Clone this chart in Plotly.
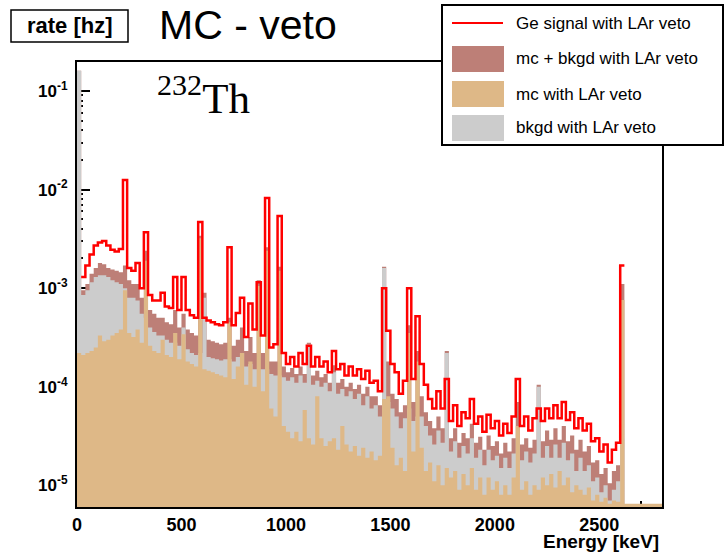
import numpy as np
import plotly.graph_objects as go

# ---------------- data (20 keV bins, 0 - 2800 keV) ----------------
BIN_WIDTH = 20
E_MAX = 2800
N = None

ge_signal = [
    N, 1.3e-3, 1.7e-3, 2.2e-3, 2.7e-3, 2.9e-3, 3.0e-3, 2.7e-3, 2.45e-3, 2.35e-3,
    2.5e-3, 1.25e-2, 1.6e-3, 1.5e-3, 1.8e-3, 1.0e-3, 3.7e-3, 8.5e-4, 7.5e-4, 7.5e-4,
    9e-4, 6.5e-4, 6.3e-4, 1.3e-3, 6e-4, 1.3e-3, 6e-4, 5.3e-4, 5e-4, 4.7e-3,
    5e-4, 4.7e-4, 4.5e-4, 4.3e-4, 4.2e-4, 4.5e-4, 2.6e-3, 4.2e-4, 5.6e-4, 8e-4,
    3.2e-4, 7e-4, 3.8e-4, 1.15e-3, 3.3e-4, 8.2e-3, 2.5e-4, 2.7e-4, 5.4e-3, 2.2e-4,
    1.7e-4, 2.0e-4, 1.6e-4, 2.2e-4, 1.7e-4, 2.6e-4, 1.6e-4, 2.0e-4, 1.6e-4, 1.8e-4,
    1.4e-4, 2.3e-4, 1.5e-4, 1.7e-4, 1.3e-4, 1.6e-4, 1.3e-4, 1.5e-4, 1.2e-4, 1.45e-4,
    1.1e-4, 1.15e-4, 9e-5, 1.0e-3, 3.7e-4, 1.7e-4, 1.4e-4, 8.5e-5, 1.15e-4, 1.0e-3,
    1.2e-4, 5.2e-4, 1.7e-4, 1.05e-4, 7.5e-5, 6e-5, 9e-5, 6e-5, 1.2e-4, 4.5e-5,
    6.5e-5, 4e-5, 5.5e-5, 4.8e-5, 7.5e-5, 4.2e-5, 5e-5, 3.5e-5, 5.2e-5, 3.8e-5,
    4.5e-5, 3.2e-5, 4.2e-5, 3.4e-5, 5e-5, 1.2e-4, 4e-5, 5e-5, 3.6e-5, 4.8e-5,
    6e-5, 4.5e-5, 6e-5, 4.8e-5, 6.5e-5, 4.8e-5, 7e-5, 4.6e-5, 5.5e-5, 3.8e-5,
    4.8e-5, 3.6e-5, 4.2e-5, 2.8e-5, 3e-5, 2.2e-5, 2.6e-5, 1.7e-5, 2.3e-5, 2.7e-5,
    1.7e-3, N, N, N, N, N, N, N, N, N,
]

mc_plus_bkgd = [
    0.16, 9.5e-4, 1.1e-3, 1.4e-3, 1.6e-3, 1.8e-3, 1.75e-3, 1.6e-3, 1.55e-3, 1.5e-3,
    1.45e-3, 1.7e-3, 1.2e-3, 1.1e-3, 1.1e-3, 8e-4, 2.4e-3, 6e-4, 5.5e-4, 5e-4,
    5e-4, 4.5e-4, 4.3e-4, 6e-4, 4e-4, 5.5e-4, 3.8e-4, 3.5e-4, 3.3e-4, 3.4e-3,
    9e-4, 3.0e-4, 2.9e-4, 2.8e-4, 2.7e-4, 2.8e-4, 5e-4, 2.6e-4, 3e-4, 4e-4,
    2.3e-4, 3.2e-4, 2.2e-4, 1.2e-3, 2.2e-4, 2.6e-3, 1.8e-4, 1.8e-4, 1.65e-3, 1.6e-4,
    1.4e-4, 1.55e-4, 1.35e-4, 1.6e-4, 1.35e-4, 2.8e-4, 1.3e-4, 1.45e-4, 1.25e-4, 1.35e-4,
    1.1e-4, 1.65e-4, 1.1e-4, 1.2e-4, 1.0e-4, 1.1e-4, 9.5e-5, 1.05e-4, 8.5e-5, 1.0e-4,
    8e-5, 8e-5, 6.5e-5, 1.65e-3, 1.8e-4, 8.5e-5, 7.5e-5, 5.5e-5, 6.5e-5, 4.2e-4,
    7e-5, 2.3e-4, 8e-5, 5.5e-5, 4.5e-5, 3.8e-5, 5e-5, 3.8e-5, 2.3e-4, 3e-5,
    3.8e-5, 2.7e-5, 3.4e-5, 3e-5, 4.2e-5, 2.7e-5, 3.1e-5, 2.3e-5, 3.2e-5, 2.5e-5,
    2.8e-5, 2.1e-5, 2.7e-5, 2.2e-5, 3e-5, 7e-5, 2.6e-5, 3e-5, 2.4e-5, 2.9e-5,
    1.05e-4, 2.8e-5, 3.6e-5, 2.9e-5, 3.8e-5, 2.9e-5, 4e-5, 2.8e-5, 3.2e-5, 2.3e-5,
    2.9e-5, 2.2e-5, 2.5e-5, 1.7e-5, 1.8e-5, 1.3e-5, 1.5e-5, 1.05e-5, 1.4e-5, 1.6e-5,
    1.1e-3, N, N, N, N, N, N, N, N, N,
]

bkgd = [
    0.16, 8.5e-4, 9.5e-4, 1.15e-3, 1.3e-3, 1.35e-3, 1.35e-3, 1.3e-3, 1.2e-3, 1.15e-3,
    1.1e-3, 1.0e-3, 8e-4, 8e-4, 7.5e-4, 5.5e-4, 5e-4, 4e-4, 3.6e-4, 3.3e-4,
    3.3e-4, 3e-4, 2.8e-4, 2.8e-4, 2.6e-4, 4e-4, 2.4e-4, 2.2e-4, 2.1e-4, 2.2e-4,
    8e-4, 2e-4, 1.95e-4, 1.9e-4, 1.85e-4, 1.9e-4, 1.9e-4, 1.8e-4, 2e-4, 2.2e-4,
    1.6e-4, 1.7e-4, 1.5e-4, 1.5e-4, 1.5e-4, 1.5e-4, 1.35e-4, 1.3e-4, 1.3e-4, 1.25e-4,
    1.15e-4, 1.25e-4, 1.1e-4, 1.3e-4, 1.1e-4, 2.7e-4, 1.05e-4, 1.15e-4, 1.0e-4, 1.1e-4,
    9e-5, 1.4e-4, 8.5e-5, 9.5e-5, 8e-5, 9e-5, 7.5e-5, 8.5e-5, 6.5e-5, 8e-5,
    6e-5, 6.5e-5, 5e-5, 1.6e-3, 7e-5, 6e-5, 5e-5, 3.8e-5, 4.8e-5, 6e-5,
    4.5e-5, 5e-5, 5e-5, 4e-5, 3.2e-5, 2.6e-5, 3.6e-5, 2.7e-5, 2.2e-4, 2.2e-5,
    2.8e-5, 1.9e-5, 2.5e-5, 2.1e-5, 3e-5, 1.9e-5, 2.3e-5, 1.6e-5, 2.3e-5, 1.8e-5,
    2e-5, 1.5e-5, 1.9e-5, 1.5e-5, 2.1e-5, 3e-5, 1.8e-5, 2.2e-5, 1.7e-5, 2.1e-5,
    1e-4, 1.9e-5, 2.5e-5, 1.9e-5, 2.6e-5, 1.9e-5, 2.7e-5, 1.8e-5, 2.1e-5, 1.4e-5,
    1.9e-5, 1.4e-5, 1.6e-5, 1.1e-5, 1.2e-5, 8.5e-6, 1e-5, 7e-6, 9e-6, 1.1e-5,
    3e-5, N, N, N, N, N, N, N, N, N,
]

mc = [
    2.2e-4, 2.1e-4, 2.2e-4, 2.3e-4, 2.5e-4, 3.3e-4, 2.9e-4, 3.0e-4, 3.3e-4, 3.5e-4,
    3.8e-4, 9.5e-4, 3.5e-4, 3.2e-4, 3.8e-4, 2.8e-4, 1.9e-3, 2.6e-4, 2.3e-4, 2.2e-4,
    3e-4, 2.1e-4, 2e-4, 3.5e-4, 1.9e-4, 3.4e-4, 1.8e-4, 1.7e-4, 1.6e-4, 3.2e-3,
    1.5e-4, 1.45e-4, 1.4e-4, 1.35e-4, 1.3e-4, 1.25e-4, 4.5e-4, 1.2e-4, 1.6e-4, 2.2e-4,
    1.05e-4, 1.8e-4, 1e-4, 1.05e-3, 9e-5, 2.4e-3, 6e-5, 5e-5, 1.5e-3, 4e-5,
    3.5e-5, 3e-5, 3.5e-5, 2.8e-5, 5.8e-5, 3e-5, 2.6e-5, 8e-5, 3e-5, 2.5e-5,
    2.8e-5, 3e-5, 2.3e-5, 4e-5, 2.6e-5, 2.2e-5, 2.5e-5, 2e-5, 2.4e-5, 1.9e-5,
    2.2e-5, 1.8e-5, 2.0e-5, 7.5e-5, 8e-5, 2.4e-5, 1.6e-5, 1.9e-5, 1.4e-5, 3.5e-4,
    2.2e-5, 1.8e-4, 2.4e-5, 1.4e-5, 1.7e-5, 1.1e-5, 1.6e-5, 1.0e-5, 1.5e-5, 1.2e-5,
    1.4e-5, 9e-6, 1.3e-5, 1.0e-5, 1.5e-5, 9e-6, 1.2e-5, 8e-6, 1.2e-5, 9e-6,
    1.1e-5, 8e-6, 1e-5, 8e-6, 1.2e-5, 4e-5, 9e-6, 1.1e-5, 8e-6, 1e-5,
    9e-6, 1.2e-5, 1e-5, 1.3e-5, 9.5e-6, 1.4e-5, 1e-5, 1.2e-5, 8.5e-6, 1e-5,
    9e-6, 8e-6, 9.5e-6, 7e-6, 8e-6, 6.8e-6, 7.5e-6, 6.5e-6, 7e-6, 6.8e-6,
    7.6e-4, 6.5e-6, 6.5e-6, 6.5e-6, 6.5e-6, 6.5e-6, 6.5e-6, 6.5e-6, 6.5e-6, 6.5e-6,
]

x_tick_step = 500
y_tick_vals = [1e-5, 1e-4, 1e-3, 1e-2, 1e-1]
y_tick_text = ["10<sup>-5</sup>", "10<sup>-4</sup>", "10<sup>-3</sup>",
               "10<sup>-2</sup>", "10<sup>-1</sup>"]
legend_labels = ["Ge signal with LAr veto", "mc + bkgd with LAr veto",
                 "mc with LAr veto", "bkgd with LAr veto"]

RED = "#ff0000"
BROWN = "#bd7f77"
TAN = "#deb887"
GREY = "#cccccc"

edges = np.arange(0, E_MAX + BIN_WIDTH, BIN_WIDTH)


def steps(vals):
    xs, ys = [], []
    for i, v in enumerate(vals):
        if v is None:
            continue
        xs += [edges[i], edges[i + 1]]
        ys += [v, v]
    return xs, ys


fig = go.Figure()
for vals, col in [(mc_plus_bkgd, BROWN), (bkgd, GREY), (mc, TAN)]:
    xs, ys = steps(vals)
    fig.add_trace(go.Scatter(x=xs, y=ys, mode="lines", line=dict(width=0, color=col),
                             fill="tozeroy", fillcolor=col, showlegend=False,
                             hoverinfo="skip"))
xs, ys = steps(ge_signal)
fig.add_trace(go.Scatter(x=xs, y=ys, mode="lines", line=dict(width=2.5, color=RED),
                         showlegend=False, hoverinfo="skip"))

# plot-area geometry in pixels
L, R, T, B = 77, 662, 62, 507
W, H = 724, 554


def px(x):
    return (x - L) / (R - L)


def py(y):
    return (B - y) / (B - T)


shapes = []
annotations = []

# legend box
shapes.append(dict(type="rect", xref="paper", yref="paper", x0=px(442), x1=px(723),
                   y0=py(145), y1=py(5), line=dict(color="black", width=2),
                   fillcolor="white", layer="above"))
shapes.append(dict(type="line", xref="paper", yref="paper", x0=px(452), x1=px(503),
                   y0=py(23), y1=py(23), line=dict(color=RED, width=2)))
for (y0, y1), col in [((46, 72), BROWN), ((81, 107), TAN), ((115, 141), GREY)]:
    shapes.append(dict(type="rect", xref="paper", yref="paper", x0=px(452), x1=px(504),
                       y0=py(y1), y1=py(y0), line=dict(width=0), fillcolor=col))
for lab, yc in zip(legend_labels, [23, 59, 94, 127]):
    annotations.append(dict(text=lab, xref="paper", yref="paper", x=px(514), y=py(yc),
                            xanchor="left", yanchor="middle", showarrow=False,
                            font=dict(family="Liberation Sans", size=17, color="black")))

# "rate [hz]" box
shapes.append(dict(type="rect", xref="paper", yref="paper", x0=px(11), x1=px(128),
                   y0=py(42), y1=py(10), line=dict(color="black", width=1.5)))
annotations.append(dict(text="rate [hz]", xref="paper", yref="paper", x=px(70), y=py(26),
                        xanchor="center", yanchor="middle", showarrow=False,
                        font=dict(family="Liberation Sans", size=22, color="black",
                                  weight="bold")))
# title
annotations.append(dict(text="MC - veto", xref="paper", yref="paper", x=px(157), y=py(25),
                        xanchor="left", yanchor="middle", showarrow=False,
                        font=dict(family="Liberation Sans", size=41, color="black")))
# 232Th label
annotations.append(dict(text="<sup>232</sup>Th", xref="paper", yref="paper", x=px(155),
                        y=py(95), xanchor="left", yanchor="middle", showarrow=False,
                        font=dict(family="Liberation Serif", size=43, color="black")))
# x-axis title
annotations.append(dict(text="Energy [keV]", xref="paper", yref="paper", x=px(661),
                        y=py(541), xanchor="right", yanchor="middle", showarrow=False,
                        font=dict(family="Liberation Sans", size=19, color="black",
                                  weight="bold")))

fig.update_layout(
    width=W, height=H,
    margin=dict(l=L, r=W - R, t=T, b=H - B),
    paper_bgcolor="white", plot_bgcolor="white",
    shapes=shapes, annotations=annotations,
    showlegend=False, hovermode=False,
    xaxis=dict(range=[0, E_MAX], dtick=x_tick_step, ticks="inside", ticklen=12,
               tickwidth=1.5, tickcolor="black", showgrid=False, zeroline=False,
               showline=True, linecolor="black", linewidth=2, mirror=True,
               layer="below traces",
               minor=dict(ticks="inside", ticklen=6, dtick=100, tickcolor="black",
                          tickwidth=1.5, showgrid=False),
               tickfont=dict(family="Liberation Sans", size=18, color="black",
                             weight="bold")),
    yaxis=dict(type="log", range=[-5.22, -0.706], tickmode="array",
               tickvals=y_tick_vals, ticktext=y_tick_text,
               ticks="inside", ticklen=13, tickwidth=2, tickcolor="black",
               showgrid=False, zeroline=False, showline=True, linecolor="black",
               linewidth=2, mirror=True, layer="below traces", ticklabelstandoff=4,
               minor=dict(ticks="inside", ticklen=6, dtick="D1", tickcolor="black",
                          tickwidth=2, showgrid=False),
               tickfont=dict(family="Liberation Sans", size=17, color="black",
                             weight="bold")),
)

fig.write_html("out.html", config={"displayModeBar": False})
